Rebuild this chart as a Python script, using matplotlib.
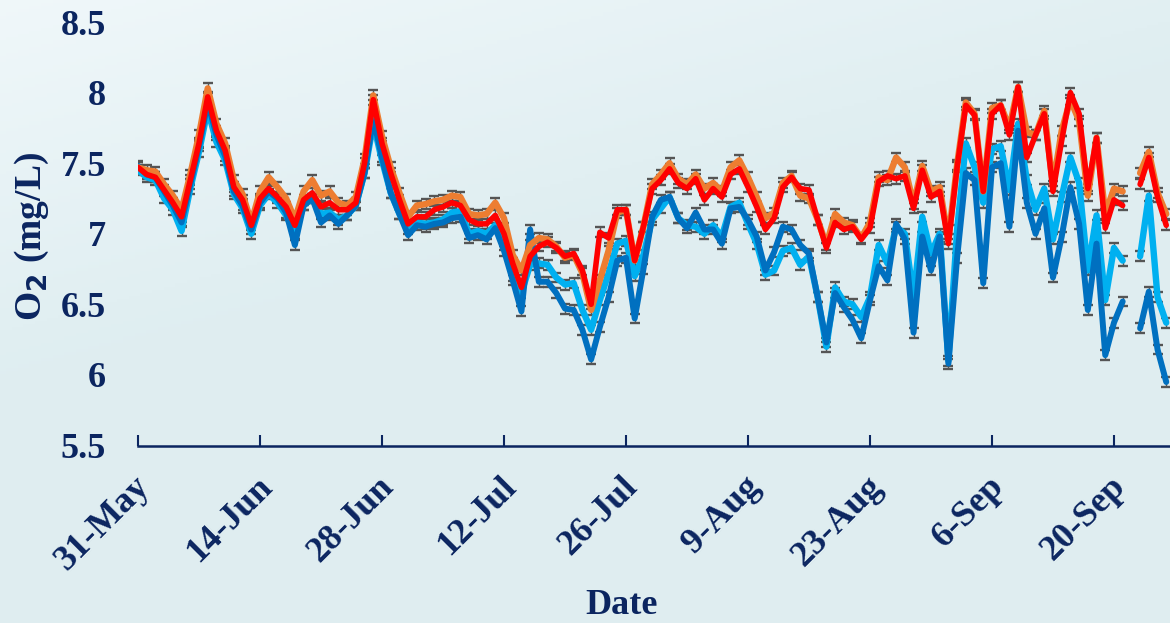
import numpy as np
import matplotlib
matplotlib.use("Agg")
import matplotlib.pyplot as plt
from matplotlib.transforms import ScaledTranslation

nan = np.nan
# Daily O2 readings starting 31-May (one value per day)
red = [7.47, 7.42, 7.40, 7.31, 7.22, 7.12, 7.38, 7.64, 7.97, 7.73, 7.59, 7.33, 7.24, 7.06, 7.25, 7.32, 7.26, 7.19, 7.06, 7.24,
       7.29, 7.19, 7.22, 7.17, 7.17, 7.22, 7.50, 7.95, 7.64, 7.43, 7.24, 7.07, 7.12, 7.12, 7.17, 7.19, 7.22, 7.20, 7.10, 7.07,
       7.07, 7.13, 7.00, 6.79, 6.62, 6.84, 6.91, 6.94, 6.90, 6.84, 6.86, 6.74, 6.50, 7.01, 6.97, 7.17, 7.17, 6.81, 7.05, 7.32,
       7.38, 7.46, 7.36, 7.32, 7.39, 7.24, 7.32, 7.26, 7.42, 7.46, 7.33, 7.19, 7.03, 7.11, 7.33, 7.40, 7.32, 7.31, 7.10, 6.90,
       7.08, 7.03, 7.05, 6.96, 7.04, 7.37, 7.41, 7.39, 7.41, 7.18, 7.45, 7.26, 7.30, 6.93, 7.47, 7.91, 7.84, 7.30, 7.85, 7.91,
       7.70, 8.04, 7.54, 7.70, 7.85, 7.30, 7.66, 8.00, 7.85, 7.32, 7.68, 7.04, 7.24, 7.20, nan, 7.35, 7.54, 7.26, 7.06]
orange = [7.47, 7.45, 7.44, 7.35, 7.27, 7.17, 7.42, 7.70, 8.03, 7.78, 7.64, 7.38, 7.28, 7.08, 7.30, 7.40, 7.33, 7.25, 7.10, 7.30,
          7.38, 7.27, 7.30, 7.22, 7.20, 7.26, 7.53, 7.98, 7.69, 7.47, 7.29, 7.12, 7.20, 7.21, 7.23, 7.24, 7.27, 7.26, 7.14, 7.13,
          7.14, 7.22, 7.11, 6.85, 6.74, 6.92, 6.97, 6.96, 6.91, 6.83, 6.85, 6.72, 6.46, 6.67, 6.88, 7.15, 7.17, 6.81, 7.05, 7.35,
          7.42, 7.50, 7.39, 7.35, 7.42, 7.32, 7.36, 7.30, 7.47, 7.52, 7.40, 7.26, 7.11, 7.15, 7.36, 7.41, 7.27, 7.25, 7.10, 6.92,
          7.14, 7.08, 7.06, 6.97, 7.08, 7.40, 7.38, 7.54, 7.47, 7.21, 7.48, 7.30, 7.33, 6.96, 7.49, 7.93, 7.85, 7.30, 7.89, 7.91,
          7.75, 8.04, 7.72, 7.70, 7.87, 7.34, 7.73, 7.95, 7.80, 7.27, 7.68, 7.14, 7.32, 7.30, nan, 7.43, 7.58, 7.29, 7.14]
cyan = [7.45, 7.40, 7.38, 7.25, 7.17, 7.02, 7.32, 7.58, 7.88, 7.65, 7.52, 7.28, 7.18, 7.00, 7.20, 7.28, 7.22, 7.13, 7.00, 7.20,
        7.25, 7.14, 7.15, 7.10, 7.13, 7.20, 7.43, 7.78, 7.52, 7.29, 7.14, 7.03, 7.08, 7.07, 7.08, 7.10, 7.15, 7.16, 7.00, 7.02,
        7.00, 7.06, 6.92, 6.70, 6.58, 6.78, 6.79, 6.78, 6.69, 6.64, 6.65, 6.46, 6.32, 6.53, 6.72, 6.93, 6.95, 6.70, 6.85, 7.10,
        7.18, 7.26, 7.11, 7.06, 7.05, 7.00, 7.06, 6.98, 7.19, 7.22, 7.07, 6.93, 6.71, 6.74, 6.88, 6.90, 6.78, 6.84, 6.55, 6.20,
        6.62, 6.52, 6.50, 6.41, 6.55, 6.92, 6.79, 7.05, 7.00, 6.55, 7.12, 6.86, 7.00, 6.10, 7.03, 7.64, 7.47, 7.22, 7.60, 7.62,
        7.31, 7.78, 7.38, 7.17, 7.32, 6.96, 7.26, 7.54, 7.36, 6.74, 7.13, 6.53, 6.90, 6.81, nan, 6.84, 7.27, 6.55, 6.37]
dark = [7.48, 7.42, 7.40, 7.30, 7.20, 7.08, 7.35, 7.62, 7.93, 7.70, 7.55, 7.30, 7.20, 7.03, 7.22, 7.30, 7.25, 7.15, 6.92, 7.20,
        7.25, 7.08, 7.13, 7.07, 7.13, 7.20, 7.43, 7.82, 7.54, 7.29, 7.14, 6.99, 7.06, 7.05, 7.07, 7.08, 7.11, 7.12, 6.97, 6.99,
        6.96, 7.04, 6.88, 6.67, 6.45, 7.03, 6.66, 6.66, 6.58, 6.47, 6.46, 6.32, 6.11, 6.34, 6.55, 6.81, 6.83, 6.40, 6.75, 7.12,
        7.24, 7.26, 7.11, 7.04, 7.15, 7.03, 7.03, 6.93, 7.18, 7.19, 7.10, 6.98, 6.74, 6.87, 7.05, 7.03, 6.92, 6.86, 6.55, 6.23,
        6.58, 6.48, 6.39, 6.26, 6.53, 6.77, 6.67, 7.07, 6.96, 6.30, 6.98, 6.74, 6.98, 6.08, 6.83, 7.43, 7.38, 6.65, 7.47, 7.50,
        7.05, 7.73, 7.22, 7.00, 7.18, 6.69, 6.98, 7.33, 7.07, 6.46, 6.93, 6.14, 6.37, 6.52, nan, 6.33, 6.59, 6.18, 5.95]
err = 0.035

tick_days = [0, 14, 28, 42, 56, 70, 84, 98, 112]
tick_labels = ['31-May', '14-Jun', '28-Jun', '12-Jul', '26-Jul', '9-Aug', '23-Aug', '6-Sep', '20-Sep']
y_ticks = [5.5, 6, 6.5, 7, 7.5, 8, 8.5]
y_tick_labels = ['5.5', '6', '6.5', '7', '7.5', '8', '8.5']

navy = '#0b2560'
W, H = 1170, 623
fig = plt.figure(figsize=(W / 100, H / 100), dpi=100)

# background gradient
bg = fig.add_axes([0, 0, 1, 1], zorder=-10)
gx, gy = np.meshgrid(np.linspace(0, 1, 200), np.linspace(0, 1, 200))
t = np.clip((gx * 0.5 + gy * 1.0) / 0.6, 0, 1)
c0 = np.array([0.94, 0.97, 0.98])
c1 = np.array([0.875, 0.933, 0.945])
img = c0[None, None, :] * (1 - t[..., None]) + c1[None, None, :] * t[..., None]
bg.imshow(img, aspect='auto', extent=[0, 1, 0, 1], origin='upper')
bg.axis('off')

left = 138 / W
bottom = (H - 445.5) / H
top = (H - 22) / H
ax = fig.add_axes([left, bottom, 1 - left, top - bottom])
ax.set_facecolor('none')

days = np.arange(len(red))
series = [(cyan, '#00B0F0', 4.6), (dark, '#0070C0', 4.3), (orange, '#ED7D31', 4.6), (red, '#FF0000', 4.0)]
for vals, col, lw in series:
    v = np.array(vals, dtype=float)
    ax.errorbar(days, v, yerr=err, fmt='none', ecolor='#555555', elinewidth=1.0,
                capsize=3.6, capthick=1.7, zorder=2)
for vals, col, lw in series:
    ax.plot(days, vals, color=col, lw=lw, solid_joinstyle='round', solid_capstyle='round', zorder=3)

ax.set_xlim(0, (W - 138) / 8.714)
ax.set_ylim(5.5, 8.5)

for s in ['top', 'right', 'left']:
    ax.spines[s].set_visible(False)
ax.spines['bottom'].set_color(navy)
ax.spines['bottom'].set_linewidth(1.8)

fontd = dict(family='Liberation Serif', weight='bold', color=navy)
ax.set_xticks(tick_days)
ax.set_xticklabels(tick_labels, rotation=45, ha='right', va='center',
                   rotation_mode='anchor', fontsize=26, **fontd)
ax.tick_params(axis='x', direction='in', length=8, width=1.5, color=navy, pad=26)
off = ScaledTranslation(7 / 100, 0, fig.dpi_scale_trans)
for lab in ax.get_xticklabels():
    lab.set_transform(lab.get_transform() + off)
ax.set_yticks(y_ticks)
ax.set_yticklabels(y_tick_labels, fontsize=26, **fontd)
ax.tick_params(axis='y', length=0, pad=23)

ax.set_xlabel('Date', fontsize=26, **fontd)
ax.xaxis.set_label_coords((622 - 138) / (W - 138), (445.5 - 606) / 423.5)
ax.xaxis.label.set_va('center')
ax.set_ylabel('O$_\\mathbf{2}$ (mg/L)', fontsize=27, **fontd)
ax.yaxis.set_label_coords(-(138 - 32) / (W - 138), (445.5 - 236) / 423.5)
ax.yaxis.label.set_va('center')

fig.savefig('out.png', dpi=100)
